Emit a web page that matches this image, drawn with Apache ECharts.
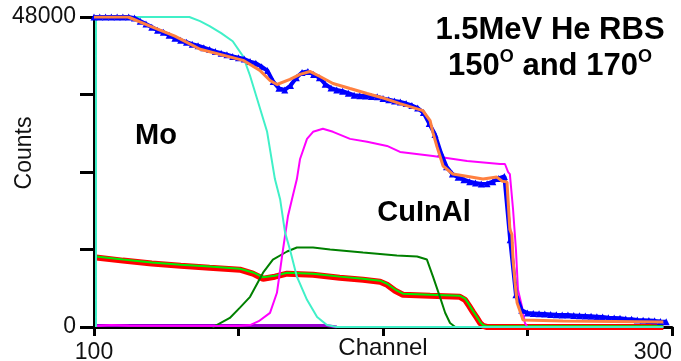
<!DOCTYPE html>
<html>
<head>
<meta charset="utf-8">
<script src="https://cdn.jsdelivr.net/npm/echarts@6/dist/echarts.min.js"></script>
<style>
  html, body { margin: 0; padding: 0; background: #fff; }
  #rbs { width: 681px; height: 361px; }
</style>
</head>
<body>
<div id="rbs"></div>
<script>
// measured spectrum (blue triangles), one value every 2 channels from 100
var blueStart = 100, blueStep = 2;
var blueCounts = [
    48000, 48000, 48000, 48000, 48000, 48000, 48000, 47830, 47360, 46900,
    46430, 45960, 45650, 45180, 44710, 44400, 44090, 43780, 43550, 43250,
    42950, 42650, 42400, 42150, 41900, 41700, 41500, 41100, 40850, 40300,
    39700, 38000, 36950, 36700, 37400, 38600, 39400, 39550, 39100, 38600,
    37600, 37000, 36700, 36500, 36200, 35900, 35800, 35750, 35700, 35650,
    35400, 35200, 35000, 34850, 34600, 34300, 33900, 33200, 31500, 29800,
    27000, 24800, 23700, 23200, 22800, 22500, 22300, 22150, 22200, 22500,
    23000, 23300, 13500, 5000, 2600, 2150, 2100, 2050, 2000, 1950,
    1900, 1870, 1850, 1800, 1750, 1700, 1650, 1600, 1550, 1450,
    1400, 1350, 1250, 1200, 1100, 1050, 1000, 950, 850, 800
];

// simulated total (orange)
var orangeFit = [
    [100, 48000], [111.8, 48000], [119.4, 46580], [128, 45030], [136.7, 43000],
    [151.6, 41290], [157.4, 39730], [160.9, 38170], [163.3, 37550], [167.8, 38330],
    [171.3, 39110], [174.7, 39570], [178.2, 38790], [182.7, 37700], [188.6, 36920],
    [194.5, 36150], [200.7, 35370], [205.9, 34590], [213.8, 33500], [216.3, 31940],
    [217.3, 30070], [218.7, 27890], [220.8, 24930], [224.2, 23680], [234.6, 22900],
    [239.4, 23210], [241.2, 22590], [242.9, 22440], [243.3, 19480], [243.9, 15110],
    [244.6, 14330], [245, 10440], [245.7, 6860], [246.4, 3740], [248.1, 1560],
    [248.4, 1090], [262.3, 930], [297, 780]
];

// Mo component (cyan)
var moPart = [
    [100.7, 0], [100.7, 48000], [133, 48000], [136.7, 47360], [140, 46600],
    [144, 45500], [148, 44250], [151.6, 41910], [154, 38900], [156.4, 35370],
    [159.9, 30220], [162.6, 22900], [164.4, 19790], [166.1, 14650], [167.8, 12000],
    [170.2, 7790], [173.7, 4210], [177.2, 1560], [180.6, 310], [184, 0], [297, 0]
];

// In component (magenta)
var inPart = [
    [100.7, 150], [106, 300], [112, 200], [150, 150], [154, 300], [157, 900],
    [160.9, 2180], [163.3, 5300], [165.4, 12000], [167.1, 17140], [168.5, 19790],
    [170.2, 22900], [171.3, 26020], [173.7, 29130], [175.8, 30220], [179.2, 30690],
    [182.7, 30220], [188.6, 29130], [194.5, 28670], [201.4, 28040], [205.9, 27110],
    [217.3, 26490], [229.1, 25710], [240.5, 25240], [242.2, 25240], [243.3, 23990],
    [243.9, 23680], [245, 18230], [246, 12000], [246.7, 5760], [248.1, 3120],
    [249.1, 620], [250, 0], [297, 0]
];

// Cu component (dark green)
var cuPart = [
    [141, 0], [142.6, 310], [147, 1400], [150.5, 3000], [154, 4670], [158.5, 8410],
    [161.9, 10440], [166.8, 11690], [170.2, 12310], [175.8, 12310], [181.7, 12000],
    [193.1, 11530], [204.8, 11060], [211.8, 10910], [215.2, 10440], [217.3, 7790],
    [219.7, 4670], [221.5, 2200], [223.2, 620], [225, 0], [297, 0]
];

// Al component (purple, near zero)
var alPart = [[100.7, 250], [180, 250], [184, 0]];

// second detector spectrum (red) and its fit (green)
var redCounts = [
    [100.7, 10750], [110, 10280], [120, 9820], [130, 9500], [140, 9190],
    [150.5, 8880], [155, 8260], [158.5, 7480], [162.6, 7790], [166.8, 8260],
    [175.8, 8100], [185, 7630], [193.1, 7320], [199, 7010], [201.4, 6540],
    [204.2, 5610], [206.9, 4990], [216.3, 4830], [226.6, 4670], [228.4, 4210],
    [229.8, 3270], [231.1, 2340], [232.5, 1400], [233.6, 620], [234.6, 160],
    [236, 0], [297, 0]
];
var greenFit = [
    [100.7, 10900], [110, 10450], [120, 10000], [130, 9650], [140, 9350],
    [150.5, 9030], [155, 8450], [158.5, 7700], [162.6, 7950], [166.8, 8400],
    [175.8, 8250], [185, 7800], [193.1, 7480], [199, 7170], [201.4, 6700],
    [204.2, 5800], [206.9, 5150], [216.3, 5000], [226.6, 4830], [228.4, 4400],
    [229.8, 3450], [231.1, 2500], [232.5, 1550], [233.6, 780], [234.6, 300],
    [236, 100], [297, 100]
];

var xTicks = [100, 300];
var yTicks = [0, 48000];

var blueData = blueCounts.map(function(v, i) {
    return [blueStart + i * blueStep, v];
});

var font = '"Liberation Sans", Arial, sans-serif';
var chart = echarts.init(document.getElementById('rbs'));

function line(name, data, color, width, z) {
    return {
        name: name,
        type: 'line',
        data: data,
        showSymbol: false,
        z: z,
        lineStyle: { color: color, width: width },
        itemStyle: { color: color }
    };
}

var option = {
    animation: false,
    backgroundColor: '#fff',
    grid: { left: 94, right: 9, top: 17, bottom: 34, containLabel: false, outerBoundsMode: 'none' },
    xAxis: {
        type: 'value',
        min: 100,
        max: 300,
        interval: 50,
        name: 'Channel',
        nameLocation: 'middle',
        nameGap: 9,
        nameMoveOverlap: false,
        nameTextStyle: { fontFamily: font, fontSize: 24, color: '#111' },
        splitLine: { show: false },
        axisLine: { lineStyle: { color: '#000', width: 3 } },
        axisTick: { inside: false, length: 9, lineStyle: { color: '#000', width: 3 } },
        axisLabel: {
            margin: 14,
            fontFamily: font,
            fontSize: 23,
            color: '#111',
            alignMaxLabel: 'right',
            formatter: function(v) { return xTicks.indexOf(v) >= 0 ? String(v) : ''; }
        }
    },
    yAxis: {
        type: 'value',
        min: 0,
        max: 48000,
        interval: 12000,
        name: 'Counts',
        nameLocation: 'middle',
        nameRotate: 90,
        nameGap: 58,
        nameMoveOverlap: false,
        nameTextStyle: { fontFamily: font, fontSize: 23, color: '#111', padding: [0, 0, 0, 38] },
        splitLine: { show: false },
        axisLine: { show: true, lineStyle: { color: '#000', width: 3 } },
        axisTick: { show: true, inside: false, length: 14, lineStyle: { color: '#000', width: 3 } },
        axisLabel: {
            margin: 18,
            fontFamily: font,
            fontSize: 23,
            color: '#111',
            formatter: function(v) { return yTicks.indexOf(v) >= 0 ? String(v) : ''; }
        }
    },
    graphic: [
        {
            type: 'text', x: 550, y: 12,
            style: {
                text: '1.5MeV He RBS\n150{sup|O} and 170{sup|O}',
                align: 'center', verticalAlign: 'top',
                fontFamily: font, fontSize: 31, fontWeight: 'bold', fill: '#000', lineHeight: 36,
                rich: {
                    sup: { fontFamily: font, fontSize: 18, fontWeight: 'bold', fill: '#000', verticalAlign: 'top', lineHeight: 36 }
                }
            }
        },
        {
            type: 'text', x: 156, y: 136,
            style: {
                text: 'Mo', align: 'center', verticalAlign: 'middle',
                fontFamily: font, fontSize: 29, fontWeight: 'bold', fill: '#000'
            }
        },
        {
            type: 'text', x: 424, y: 213,
            style: {
                text: 'CuInAl', align: 'center', verticalAlign: 'middle',
                fontFamily: font, fontSize: 29, fontWeight: 'bold', fill: '#000'
            }
        }
    ],
    series: [
        line('170 data', redCounts, '#ff0000', 6, 2),
        line('170 fit', greenFit, '#00ee00', 2, 3),
        line('Al', alPart, '#9a00d0', 3, 4),
        line('Cu', cuPart, '#008000', 2, 5),
        line('In', inPart, '#ff00ff', 2, 6),
        line('Mo', moPart, '#40f0c8', 2, 7),
        {
            name: '150 data',
            type: 'line',
            data: blueData,
            z: 8,
            symbol: 'triangle',
            symbolSize: 7,
            showSymbol: true,
            lineStyle: { color: '#0000ff', width: 4 },
            itemStyle: { color: '#0000ff' }
        },
        line('150 fit', orangeFit, '#ff8040', 3, 9)
    ]
};

chart.setOption(option);
</script>
</body>
</html>
